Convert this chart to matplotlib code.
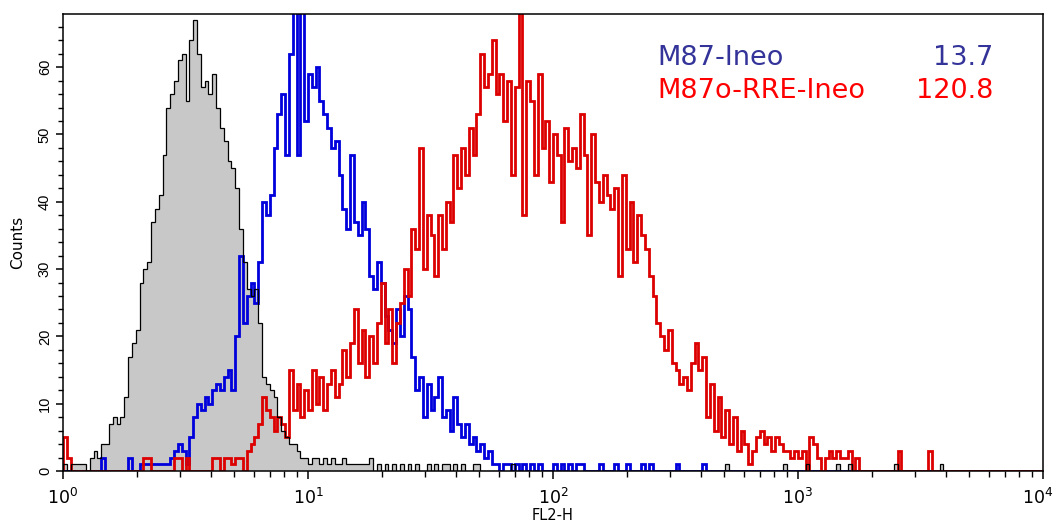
import matplotlib
matplotlib.use("Agg")
import matplotlib.pyplot as plt
from matplotlib.ticker import MultipleLocator, LogLocator, NullFormatter, FuncFormatter
import numpy as np

plt.rcParams['font.family'] = ['DejaVu Sans']
plt.rcParams['mathtext.fontset'] = 'custom'
plt.rcParams['mathtext.rm'] = 'Liberation Sans'

# 256 channels over 4 log decades (64 channels per decade)
channels = np.arange(257)
edges = 10 ** (channels / 64)

# unstained control (grey filled)
control = [
    1, 0, 1, 1, 1, 1, 0, 2, 3, 2, 4, 4, 7, 8, 7, 8,
    11, 17, 19, 21, 28, 30, 31, 37, 39, 41, 47, 54, 56, 58, 61, 62,
    55, 64, 67, 62, 57, 58, 56, 59, 54, 51, 49, 46, 45, 42, 36, 31,
    27, 26, 27, 22, 14, 13, 12, 11, 8, 6, 5, 4, 4, 3, 2, 2,
    1, 2, 2, 1, 2, 1, 2, 1, 1, 2, 1, 1, 1, 1, 1, 1,
    2, 0, 1, 0, 1, 0, 1, 0, 1, 0, 1, 0, 1, 0, 0, 1,
    0, 1, 0, 1, 1, 0, 1, 0, 1, 0, 0, 1, 1, 0, 0, 0,
    0, 0, 0, 0, 0, 1, 0, 0, 0, 0, 0, 0, 0, 0, 0, 0,
    0, 0, 0, 0, 0, 0, 0, 0, 0, 0, 0, 0, 0, 0, 0, 0,
    0, 0, 0, 0, 0, 0, 0, 0, 0, 0, 0, 0, 0, 0, 0, 0,
    0, 0, 0, 0, 0, 0, 0, 0, 0, 0, 0, 0, 0, 1, 0, 0,
    0, 0, 0, 0, 0, 0, 0, 0, 0, 0, 0, 0, 1, 0, 0, 0,
    0, 0, 1, 0, 0, 0, 0, 0, 0, 0, 1, 0, 0, 1, 0, 0,
    0, 0, 0, 0, 0, 0, 0, 0, 0, 1, 0, 0, 0, 0, 0, 0,
    0, 0, 0, 0, 0, 1, 0, 0, 0, 0, 0, 0, 0, 0, 0, 0,
    0, 0, 0, 0, 0, 0, 0, 0, 0, 0, 0, 0, 0, 0, 0, 0,
]

# M87-Ineo
m87 = [
    0, 0, 0, 0, 0, 0, 0, 0, 0, 0, 2, 0, 0, 0, 0, 0,
    0, 2, 0, 0, 1, 1, 1, 1, 1, 1, 1, 1, 2, 3, 4, 3,
    1, 5, 8, 10, 9, 11, 10, 12, 13, 12, 14, 15, 12, 20, 32, 22,
    26, 28, 25, 31, 40, 38, 41, 48, 53, 56, 47, 62, 75, 47, 75, 52,
    59, 57, 60, 55, 53, 51, 48, 49, 44, 39, 36, 47, 37, 35, 40, 36,
    29, 27, 31, 28, 23, 21, 19, 24, 20, 26, 24, 17, 12, 14, 8, 13,
    9, 11, 14, 8, 9, 6, 11, 7, 5, 7, 4, 5, 3, 4, 2, 3,
    1, 1, 0, 1, 1, 0, 1, 0, 1, 0, 1, 0, 1, 0, 0, 0,
    1, 0, 1, 0, 1, 0, 1, 1, 0, 0, 0, 0, 1, 0, 0, 0,
    1, 0, 0, 1, 0, 0, 0, 1, 0, 1, 0, 0, 0, 0, 0, 0,
    1, 0, 0, 0, 0, 0, 0, 1, 0, 0, 0, 0, 0, 0, 0, 0,
    0, 0, 0, 0, 0, 0, 0, 0, 0, 0, 0, 0, 0, 0, 0, 0,
    0, 0, 0, 0, 0, 0, 0, 0, 0, 0, 0, 0, 0, 0, 0, 0,
    0, 0, 0, 0, 0, 0, 0, 0, 0, 0, 0, 0, 0, 0, 0, 0,
    0, 0, 0, 0, 0, 0, 0, 0, 0, 0, 0, 0, 0, 0, 0, 0,
    0, 0, 0, 0, 0, 0, 0, 0, 0, 0, 0, 0, 0, 0, 0, 0,
]

# M87o-RRE-Ineo
m87o_rre = [
    5, 2, 0, 0, 0, 0, 0, 0, 0, 0, 0, 0, 0, 0, 0, 0,
    0, 0, 0, 0, 0, 2, 2, 0, 0, 0, 0, 0, 0, 2, 2, 0,
    2, 0, 0, 0, 0, 0, 0, 2, 2, 0, 2, 2, 1, 2, 2, 0,
    3, 4, 5, 7, 11, 9, 8, 6, 8, 7, 5, 15, 9, 13, 8, 12,
    9, 15, 10, 14, 9, 13, 15, 11, 13, 18, 14, 19, 24, 16, 21, 14,
    20, 16, 22, 28, 19, 24, 16, 22, 25, 30, 26, 36, 33, 48, 30, 38,
    35, 29, 38, 33, 40, 37, 47, 42, 48, 44, 51, 47, 53, 62, 57, 59,
    64, 56, 59, 52, 58, 44, 57, 70, 38, 58, 55, 44, 59, 48, 52, 43,
    50, 47, 37, 51, 46, 48, 45, 53, 47, 35, 50, 43, 40, 44, 41, 39,
    42, 29, 44, 33, 40, 31, 38, 35, 33, 29, 26, 22, 20, 18, 21, 16,
    15, 13, 14, 12, 16, 19, 15, 17, 8, 13, 6, 11, 5, 9, 4, 8,
    3, 6, 4, 1, 3, 5, 6, 4, 5, 3, 5, 4, 3, 3, 2, 3,
    2, 3, 0, 5, 4, 2, 0, 2, 3, 2, 3, 2, 2, 3, 0, 2,
    0, 0, 0, 0, 0, 0, 0, 0, 0, 0, 3, 0, 0, 0, 0, 0,
    0, 0, 3, 0, 0, 0, 0, 0, 0, 0, 0, 0, 0, 0, 0, 0,
    0, 0, 0, 0, 0, 0, 0, 0, 0, 0, 0, 0, 0, 0, 0, 0,
]

labels = ['M87-Ineo', 'M87o-RRE-Ineo']
means = ['13.7', '120.8']
label_colors = ['#333399', '#ff0000']

fig = plt.figure(figsize=(10.56, 5.24), dpi=100)
ax = fig.add_axes([63 / 1056, 53 / 524, 980 / 1056, 457 / 524])

ax.stairs(control, edges, fill=True, color='#c8c8c8', lw=0)
ax.stairs(m87, edges, color='#0000dd', lw=2.0)
ax.stairs(m87o_rre, edges, color='#dd0000', lw=2.0)
ax.stairs(control, edges, color='black', lw=0.9)

ax.set_xscale('log')
ax.set_xlim(1, 1e4)
ax.set_ylim(0, 67.9)


def decade_label(v, pos):
    # the last decade is written separately, pulled in from the edge
    if v >= 1e4:
        return ''
    return r'$\mathdefault{10^{%d}}$' % round(np.log10(v))


ax.xaxis.set_major_locator(LogLocator(base=10, numticks=10))
ax.xaxis.set_major_formatter(FuncFormatter(decade_label))
ax.xaxis.set_minor_locator(LogLocator(base=10, subs=np.arange(2, 10), numticks=50))
ax.xaxis.set_minor_formatter(NullFormatter())
ax.yaxis.set_major_locator(MultipleLocator(10))
ax.yaxis.set_minor_locator(MultipleLocator(2))

for s in ax.spines.values():
    s.set_linewidth(1.1)
ax.tick_params(axis='x', which='major', length=6, width=1.1, labelsize=12.5, pad=6)
ax.tick_params(axis='x', which='minor', length=4, width=1.0)
ax.tick_params(axis='y', which='major', length=5, width=1.1, pad=3)
ax.tick_params(axis='y', which='minor', length=3.5, width=1.0)
for t in ax.get_yticklabels():
    t.set_rotation(90)
    t.set_va('center')
    t.set_family(['Liberation Sans'])
    t.set_fontsize(10.5)

ax.annotate(r'$\mathdefault{10^{4}}$', xy=(1e4, 0), xycoords=('data', 'axes fraction'),
            xytext=(-4, -12), textcoords='offset points',
            ha='center', va='top', fontsize=12.5)

ax.set_xlabel('FL2-H', fontsize=10.5, labelpad=0)
ax.set_ylabel('Counts', fontsize=11, labelpad=9)

for k in range(2):
    y = 1 - (65 + 33 * k) / 524
    fig.text(657 / 1056, y, labels[k], color=label_colors[k], fontsize=19.5, va='baseline')
    fig.text(993 / 1056, y, means[k], color=label_colors[k], fontsize=19.5, va='baseline', ha='right')

fig.savefig('out.png', dpi=100)
